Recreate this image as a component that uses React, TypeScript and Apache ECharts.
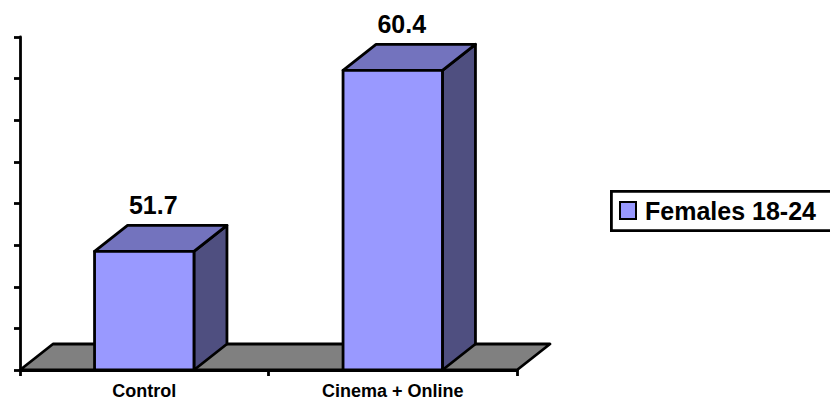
import React, { useEffect, useRef } from "react";
import * as echarts from "echarts";

// Chart data
const categories: string[] = ["Control", "Cinema + Online"];
const seriesName = "Females 18-24";
const values: number[] = [51.7, 60.4];

// Value axis range
const axisMin = 46;
const axisMax = 62;
const axisInterval = 2;

// 3D look
const DEPTH_X = 33;
const DEPTH_Y = -26;
const BAR_RATIO = 0.4;
const FRONT = "#9999FF";
const TOP = "#7373BE";
const SIDE = "#4F4F80";
const FLOOR = "#808080";
const EDGE = "#000000";
const LW = 2.8;
const FONT = 'Arial, "Liberation Sans", Helvetica, sans-serif';

// Legend frame placement
const LEGEND_LEFT = 610;
const LEGEND_TOP = 190;
const LEGEND_H = 42;

export default function App() {
  const ref = useRef<HTMLDivElement | null>(null);

  useEffect(() => {
    document.body.style.margin = "0";
    if (!ref.current) return;
    const chart = echarts.init(ref.current, null, { renderer: "svg" });

    const floorRender = (params: any) => {
      const cs = params.coordSys;
      const x0 = cs.x;
      const x1 = cs.x + cs.width;
      const y0 = cs.y + cs.height;
      return {
        type: "polygon",
        shape: {
          points: [
            [x0, y0],
            [x1, y0],
            [x1 + DEPTH_X, y0 + DEPTH_Y],
            [x0 + DEPTH_X, y0 + DEPTH_Y],
          ],
        },
        style: { fill: FLOOR, stroke: EDGE, lineWidth: LW, lineJoin: "round" },
      };
    };

    const barRender = (params: any, api: any) => {
      const idx = api.value(0);
      const val = api.value(1);
      const top = api.coord([idx, val]);
      const base = api.coord([idx, axisMin]);
      const band = api.size([1, 0])[0];
      const w = band * BAR_RATIO;
      const x = top[0] - w / 2;
      const yt = top[1];
      const yb = base[1];
      const style = { stroke: EDGE, lineWidth: LW, lineJoin: "round" };
      return {
        type: "group",
        children: [
          {
            type: "polygon",
            shape: {
              points: [
                [x + w, yt],
                [x + w + DEPTH_X, yt + DEPTH_Y],
                [x + w + DEPTH_X, yb + DEPTH_Y],
                [x + w, yb],
              ],
            },
            style: { ...style, fill: SIDE },
          },
          {
            type: "polygon",
            shape: {
              points: [
                [x, yt],
                [x + DEPTH_X, yt + DEPTH_Y],
                [x + w + DEPTH_X, yt + DEPTH_Y],
                [x + w, yt],
              ],
            },
            style: { ...style, fill: TOP },
          },
          {
            type: "rect",
            shape: { x, y: yt, width: w, height: yb - yt },
            style: { ...style, fill: FRONT },
          },
          {
            type: "text",
            x: top[0] + 9,
            y: yt + DEPTH_Y - 20,
            style: {
              text: String(values[idx]),
              fill: "#000",
              font: `bold 25px ${FONT}`,
              align: "center",
              verticalAlign: "middle",
            },
          },
        ],
      };
    };

    chart.setOption({
      animation: false,
      backgroundColor: "#ffffff",
      textStyle: { fontFamily: FONT },
      grid: {
        left: 20,
        right: 313,
        top: 37,
        bottom: 33,
        containLabel: false,
        outerBoundsMode: "none",
      },
      // legend frame runs past the right edge of the canvas
      graphic: [
        {
          type: "rect",
          z: 0,
          shape: {
            x: LEGEND_LEFT + 1.4,
            y: LEGEND_TOP + 1.4,
            width: 260,
            height: LEGEND_H - 2.8,
          },
          style: { fill: "#fff", stroke: EDGE, lineWidth: 2.8 },
        },
      ],
      legend: {
        left: LEGEND_LEFT,
        top: LEGEND_TOP,
        orient: "horizontal",
        data: [{ name: seriesName, icon: "rect" }],
        itemWidth: 16,
        itemHeight: 17,
        itemStyle: { borderColor: EDGE, borderWidth: 2 },
        padding: [8, 10, 8, 9],
        borderWidth: 0,
        selectedMode: false,
        z: 5,
        textStyle: {
          color: "#000",
          fontWeight: "bold",
          fontSize: 25,
          fontFamily: FONT,
          padding: [0, 0, 0, 4],
        },
      },
      xAxis: {
        type: "category",
        data: categories,
        boundaryGap: true,
        axisLine: { show: true, lineStyle: { color: EDGE, width: LW } },
        axisTick: { show: true, length: 6, lineStyle: { color: EDGE, width: LW } },
        axisLabel: {
          color: "#000",
          fontWeight: "bold",
          fontSize: 18,
          fontFamily: FONT,
          margin: 12,
        },
        splitLine: { show: false },
      },
      yAxis: {
        type: "value",
        min: axisMin,
        max: axisMax,
        interval: axisInterval,
        axisLine: { show: true, lineStyle: { color: EDGE, width: LW } },
        axisTick: { show: true, length: 6, lineStyle: { color: EDGE, width: LW } },
        axisLabel: { show: false },
        splitLine: { show: false },
      },
      series: [
        {
          type: "custom",
          name: "floor",
          z: 1,
          silent: true,
          renderItem: floorRender,
          data: [[0, axisMin]],
        },
        {
          type: "custom",
          name: seriesName,
          z: 3,
          itemStyle: { color: FRONT },
          renderItem: barRender,
          encode: { x: 0, y: 1 },
          data: values.map((v, i) => [i, v]),
        },
      ],
    });

    return () => chart.dispose();
  }, []);

  return (
    <div
      ref={ref}
      style={{ position: "fixed", left: 0, top: 0, width: 830, height: 403 }}
    />
  );
}
